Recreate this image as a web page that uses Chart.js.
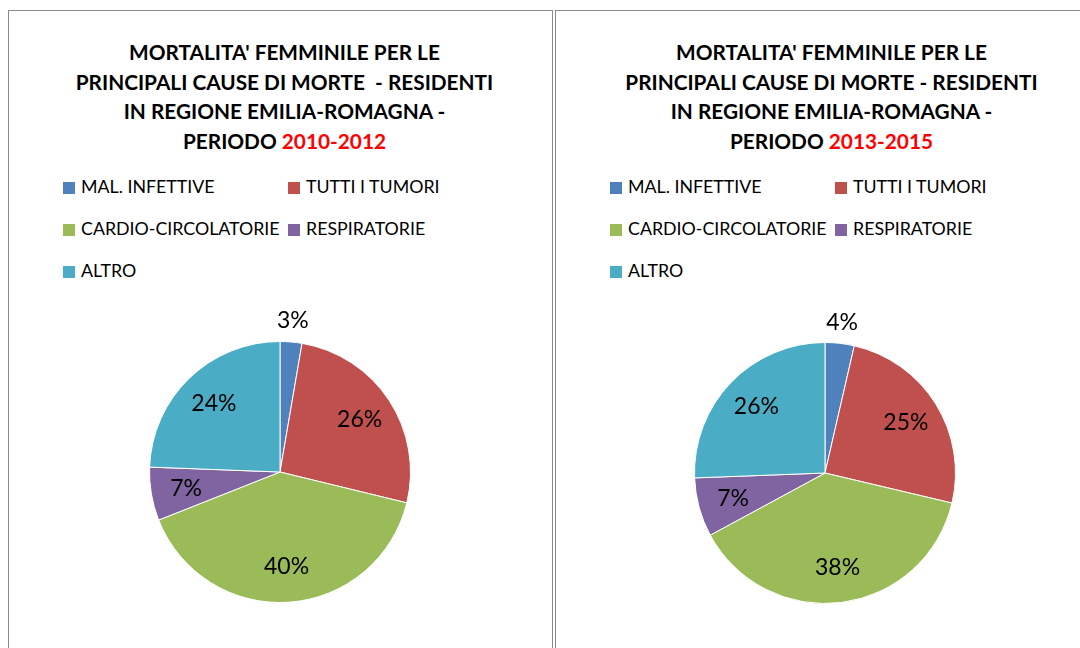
<!DOCTYPE html>
<html>
<head>
  <title>Mortalita femminile</title>
  <script src="https://cdn.jsdelivr.net/npm/chart.js@4"></script>
  <style>
    body{margin:0;background:#fff;font-family:Lato,"Open Sans",sans-serif;color:#000;overflow:hidden}
    .panel{position:absolute;top:10px;width:545px;height:700px;border:1px solid #8a8a8a;box-sizing:border-box}
    #p1{left:8px}
    #p2{left:555px}
    .title{position:absolute;left:4px;top:26px;width:100%;text-align:center;font-weight:bold;font-size:20.8px;line-height:29.7px;white-space:pre}
    .title .yr{color:#ff0000}
    .legend{position:absolute;left:54px;top:165px;font-size:17.8px}
    .item{position:absolute;white-space:nowrap;height:20px;line-height:20px}
    .item span.box{display:inline-block;width:12px;height:12px;margin-right:6px;vertical-align:-1px}
    canvas{position:absolute}
  </style>
</head>
<body>
  <div class="panel" id="p1">
    <div class="title" id="t1"></div>
    <div class="legend" id="l1"></div>
    <canvas id="c1" width="360" height="360"></canvas>
  </div>
  <div class="panel" id="p2">
    <div class="title" id="t2"></div>
    <div class="legend" id="l2"></div>
    <canvas id="c2" width="360" height="360"></canvas>
  </div>

<script>
// data
var categories = ["MAL. INFETTIVE","TUTTI I TUMORI","CARDIO-CIRCOLATORIE","RESPIRATORIE","ALTRO"]
var values2010 = [2.7, 26.1, 40.2, 6.6, 24.4]
var values2013 = [3.6, 25.1, 38.4, 7.3, 25.6]
var periods = ["2010-2012","2013-2015"]
var colors = ["#4F81BD","#C0504D","#9BBB59","#8064A2","#4BACC6"]

var titleLines = [
  "MORTALITA' FEMMINILE PER LE\nPRINCIPALI CAUSE DI MORTE  - RESIDENTI\nIN REGIONE EMILIA-ROMAGNA -\nPERIODO ",
  "MORTALITA' FEMMINILE PER LE\nPRINCIPALI CAUSE DI MORTE - RESIDENTI\nIN REGIONE EMILIA-ROMAGNA -\nPERIODO "
]

function fillPanel(n, values){
  var t = document.getElementById("t"+n)
  t.textContent = titleLines[n-1]
  var yr = document.createElement("span")
  yr.className = "yr"
  yr.textContent = periods[n-1]
  t.appendChild(yr)

  //legend in 2 columns
  var l = document.getElementById("l"+n)
  for(i=0;i<categories.length;i++){
    var d = document.createElement("div")
    d.className = "item"
    d.style.left = (i%2)*225 + "px"
    d.style.top = Math.floor(i/2)*42 + "px"
    d.innerHTML = '<span class="box" style="background:'+colors[i]+'"></span>'
    d.appendChild(document.createTextNode(categories[i]))
    l.appendChild(d)
  }

  var cv = document.getElementById("c"+n)
  cv.style.left = (n==1 ? 91 : 89) + "px"
  cv.style.top = (n==1 ? 281 : 282) + "px"
  new Chart(cv.getContext("2d"), {
    type: "pie",
    data: {
      labels: categories,
      datasets: [{
        data: values,
        backgroundColor: colors,
        borderColor: "#ffffff",
        borderWidth: 1
      }]
    },
    options: {
      responsive: false,
      animation: false,
      layout: {padding: 49},
      plugins: {legend: {display: false}, tooltip: {enabled: false}}
    },
    plugins: [pctLabels]
  })
}

// percentage labels, inside the slice or just outside if it is thin
var pctLabels = {
  id: "pctLabels",
  afterDatasetsDraw: function(chart){
    var ctx = chart.ctx
    var vals = chart.data.datasets[0].data
    var sum = 0
    for(i=0;i<vals.length;i++){ sum += vals[i] }
    var arcs = chart.getDatasetMeta(0).data
    ctx.save()
    ctx.font = "23px Lato"
    ctx.fillStyle = "#000"
    ctx.textAlign = "center"
    ctx.textBaseline = "middle"
    for(i=0;i<arcs.length;i++){
      var a = arcs[i]
      var mid = (a.startAngle + a.endAngle)/2
      var share = vals[i]/sum
      var r = share < 0.05 ? a.outerRadius + 21 : a.outerRadius*0.73
      ctx.fillText(Math.round(share*100) + "%", a.x + Math.cos(mid)*r, a.y + Math.sin(mid)*r)
    }
    ctx.restore()
  }
}

fillPanel(1, values2010)
fillPanel(2, values2013)
</script>
</body>
</html>
